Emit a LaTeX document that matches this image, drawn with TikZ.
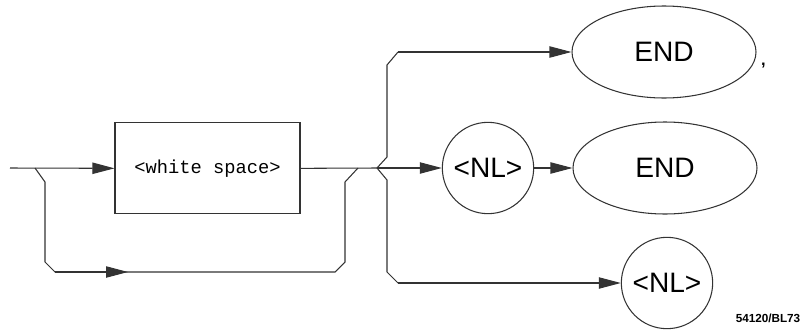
\documentclass[tikz,border=0pt]{standalone}
\usepackage{fontspec}
\setmainfont{Liberation Sans}
\setmonofont{Liberation Mono}
\usetikzlibrary{arrows.meta,shapes.geometric}

\begin{document}
\begin{tikzpicture}[
  line/.style={line width=0.9pt, draw=black!80},
  arrow/.style={-{Triangle[length=6.6mm, width=3.4mm]}, line width=0.9pt, draw=black!80},
  box/.style={draw=black!80, line width=0.9pt, minimum width=5.55cm,
              minimum height=2.73cm, font=\fontsize{16}{18}\ttfamily},
  term/.style={ellipse, draw=black!80, line width=0.9pt, minimum width=5.52cm,
               minimum height=2.76cm, inner sep=0pt, font=\fontsize{24}{26}\selectfont},
  nl/.style={circle, draw=black!80, line width=0.9pt, minimum size=2.74cm,
             inner sep=0pt, font=\fontsize{24}{26}\selectfont}
]
  \useasboundingbox (0,0) rectangle (24.33,-9.87);

  \coordinate (start) at (0.30,-5.04);
  \coordinate (split) at (1.05,-5.04);
  \coordinate (join) at (10.74,-5.04);
  \coordinate (fork) at (11.31,-5.04);

  \node[box] (ws) at (6.225,-5.05) {<white space>};
  \node[term] (end1) at (19.92,-1.56) {END};
  \node[nl] (nl1) at (14.64,-5.04) {<NL>};
  \node[term] (end2) at (19.95,-5.04) {END};
  \node[nl] (nl2) at (20.01,-8.49) {<NL>};
  \node[font=\fontsize{14}{16}\bfseries\selectfont] (comma) at (22.90,-1.98) {,};
  \node[font=\fontsize{10}{12}\bfseries\selectfont] (code) at (23.04,-9.54) {54120/BL73};

  % main line
  \draw[arrow] (start) -- (ws.west);
  \draw[line] (ws.east) -- (fork);

  % bypass round the box
  \draw[line] (split) -- (1.35,-5.46) -- (1.35,-7.86) -- (1.65,-8.16)
    -- (10.05,-8.16) -- (10.35,-7.86) -- (10.35,-5.46) -- (join);
  \draw[arrow] (1.65,-8.16) -- (3.84,-8.16);

  % three branches
  \draw[line] (fork) -- (11.61,-4.71) -- (11.61,-1.95) -- (11.94,-1.56);
  \draw[arrow] (11.94,-1.56) -- (end1.west);
  \draw[arrow] (fork) -- (nl1.west);
  \draw[arrow] (nl1.east) -- (end2.west);
  \draw[line] (fork) -- (11.61,-5.40) -- (11.61,-8.16) -- (11.94,-8.49);
  \draw[arrow] (11.94,-8.49) -- (nl2.west);
\end{tikzpicture}
\end{document}
